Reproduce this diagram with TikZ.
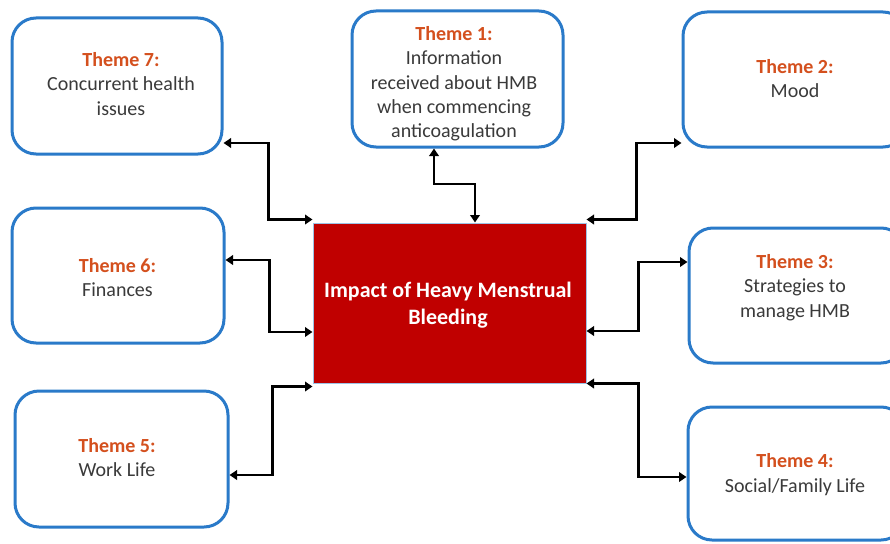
\documentclass[tikz,border=0pt]{standalone}
\usepackage{fontspec}
\setmainfont{Carlito}
\usetikzlibrary{arrows.meta}
\definecolor{boxblue}{HTML}{2A7AC9}
\definecolor{headred}{HTML}{D4501E}
\definecolor{bodygray}{HTML}{3A3A3A}
\definecolor{impactred}{HTML}{C00000}
\definecolor{edgeblue}{HTML}{9DC3E6}
\tikzset{
  themebox/.style={draw=boxblue, line width=3pt, rounded corners=24pt, fill=white},
  themetext/.style={align=center, text=bodygray, font=\fontsize{20pt}{24.3pt}\selectfont, inner sep=0pt},
  impactbox/.style={draw=edgeblue, line width=1pt, fill=impactred},
  impacttext/.style={align=center, text=white, font=\fontsize{22pt}{26.5pt}\selectfont\bfseries, inner sep=0pt},
  conn/.style={draw=black, line width=2.8pt, {Triangle[length=7.5pt,width=9.5pt]}-{Triangle[length=7.5pt,width=9.5pt]}}
}
\newcommand{\thm}[1]{{\color{headred}\bfseries #1}}
\begin{document}
\begin{tikzpicture}[x=1pt, y=-1pt]
\useasboundingbox (0,0) rectangle (890,543);
\clip (0,0) rectangle (890,543);
\fill[white] (0,0) rectangle (890,543);
% boxes
\node[themebox, minimum width=210pt, minimum height=136pt] (t7) at (117,86) {};
\node[themebox, minimum width=211pt, minimum height=136pt] (t1) at (457.5,79) {};
\node[themebox, minimum width=224pt, minimum height=135pt] (t2) at (795,79.5) {};
\node[themebox, minimum width=212pt, minimum height=135pt] (t6) at (118,275.5) {};
\node[themebox, minimum width=213pt, minimum height=136pt] (t5) at (121.5,459) {};
\node[themebox, minimum width=216pt, minimum height=135pt] (t3) at (797,295.5) {};
\node[themebox, minimum width=217pt, minimum height=133pt] (t4) at (796.5,473.5) {};
\node[impactbox, minimum width=273pt, minimum height=160pt] (c) at (449.5,303) {};
% texts
\node[themetext] (l7) at (121,84) {\thm{Theme 7:}\\Concurrent health\\issues};
\node[themetext] (l1) at (454,84) {\thm{Theme 1:}\\Information\\received about HMB\\when commencing\\anticoagulation};
\node[themetext] (l2) at (795,78.5) {\thm{Theme 2:}\\Mood};
\node[themetext] (l6) at (117.5,277.5) {\thm{Theme 6:}\\Finances};
\node[themetext] (l5) at (117,457.5) {\thm{Theme 5:}\\Work Life};
\node[themetext] (l3) at (795,287.5) {\thm{Theme 3:}\\Strategies to\\manage HMB};
\node[themetext] (l4) at (795,474.5) {\thm{Theme 4:}\\Social/Family Life};
\node[impacttext] (lc) at (448,305) {Impact of Heavy Menstrual\\Bleeding};
% connectors
\draw[conn] ([yshift=12.5pt]t7.south east) -- ++(45,0) |- ([yshift=3pt]c.north west);
\draw[conn] ([xshift=-23.5pt]t1.south) -- ++(0,35.5) -| ([xshift=25.5pt]c.north);
\draw[conn] ([yshift=3pt]c.north east) -- ++(50,0) |- ([yshift=5.5pt]t2.south west);
\draw[conn] ([yshift=15.5pt]t6.east) -- ++(44,0) |- ([yshift=-29pt]c.west);
\draw[conn] ([yshift=-16pt]t5.east) -- ++(43,0) |- ([yshift=-3pt]c.south west);
\draw[conn] ([yshift=-28pt]c.east) -- ++(52,0) |- ([yshift=33.5pt]t3.west);
\draw[conn] (c.south east) -- ++(52,0) |- ([yshift=-3.5pt]t4.west);
\end{tikzpicture}
\end{document}
